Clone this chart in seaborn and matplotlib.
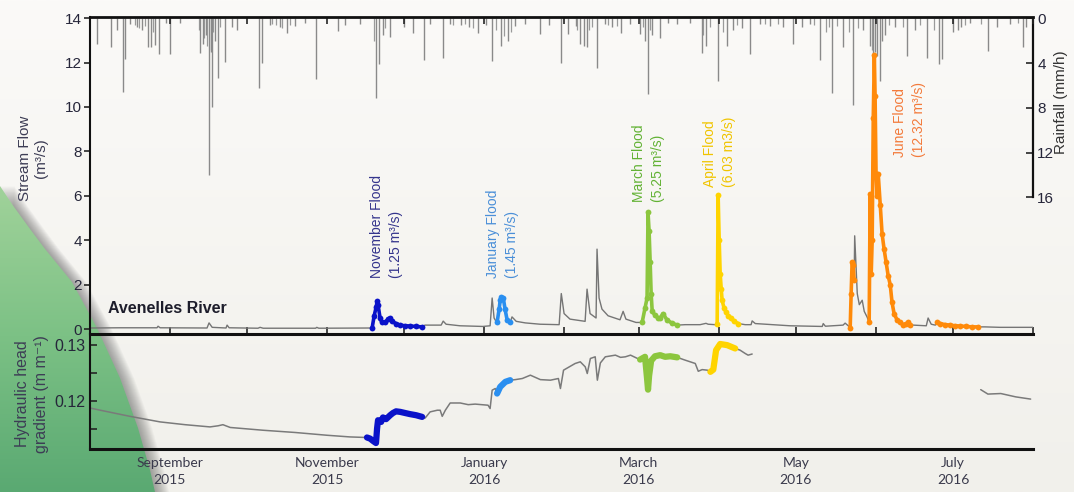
import numpy as np
import pandas as pd
import matplotlib
matplotlib.use("Agg")
import matplotlib.pyplot as plt
import matplotlib.dates as mdates
from matplotlib.patches import Polygon
from matplotlib.colors import LinearSegmentedColormap
import seaborn as sns

# ---------------------------------------------------------------- data
# Hourly rainfall peaks (mm/h)
rain_time = [
    "2015-08-03 17:00", "2015-08-09 05:00", "2015-08-11 12:00", "2015-08-13 19:00", "2015-08-14 14:00",
    "2015-08-16 10:00", "2015-08-19 05:00", "2015-08-21 05:00", "2015-08-23 12:00", "2015-08-24 17:00",
    "2015-08-26 05:00", "2015-08-27 19:00", "2015-08-30 12:00", "2015-09-01 00:00", "2015-09-05 00:00",
    "2015-09-12 17:00", "2015-09-13 20:00", "2015-09-15 00:00", "2015-09-16 05:00", "2015-09-16 22:00",
    "2015-09-17 07:00", "2015-09-18 12:00", "2015-09-19 17:00", "2015-09-22 10:00", "2015-09-25 02:00",
    "2015-09-27 00:00", "2015-10-05 14:00", "2015-10-06 19:00", "2015-10-09 22:00", "2015-10-13 19:00",
    "2015-10-16 12:00", "2015-10-19 14:00", "2015-10-23 10:00", "2015-10-27 19:00", "2015-11-05 07:00",
    "2015-11-08 00:00", "2015-11-13 19:00", "2015-11-20 00:00", "2015-11-21 05:00", "2015-11-22 17:00",
    "2015-11-25 12:00", "2015-11-30 22:00", "2015-12-04 10:00", "2015-12-08 14:00", "2015-12-11 00:00",
    "2015-12-16 00:00", "2015-12-18 17:00", "2015-12-22 22:00", "2015-12-26 00:00", "2015-12-29 12:00",
    "2016-01-01 17:00", "2016-01-04 02:00", "2016-01-07 14:00", "2016-01-10 07:00", "2016-01-13 00:00",
    "2016-01-16 22:00", "2016-01-22 17:00", "2016-01-26 05:00", "2016-01-30 22:00", "2016-02-02 14:00",
    "2016-02-05 17:00", "2016-02-07 05:00", "2016-02-08 19:00", "2016-02-09 22:00", "2016-02-13 19:00",
    "2016-02-16 22:00", "2016-02-19 14:00", "2016-02-23 02:00", "2016-02-26 14:00", "2016-03-01 12:00",
    "2016-03-03 10:00", "2016-03-04 14:00", "2016-03-06 05:00", "2016-03-09 07:00", "2016-03-12 10:00",
    "2016-03-15 22:00", "2016-03-21 00:00", "2016-03-25 14:00", "2016-03-27 02:00", "2016-03-31 19:00",
    "2016-04-04 07:00", "2016-04-06 14:00", "2016-04-10 02:00", "2016-04-13 05:00", "2016-04-17 02:00",
    "2016-04-21 00:00", "2016-04-26 00:00", "2016-04-29 22:00", "2016-05-03 10:00", "2016-05-06 12:00",
    "2016-05-10 10:00", "2016-05-15 00:00", "2016-05-19 07:00", "2016-05-23 05:00", "2016-05-27 02:00",
    "2016-05-29 19:00", "2016-05-31 00:00", "2016-05-31 17:00", "2016-06-01 12:00", "2016-06-02 17:00",
    "2016-06-03 10:00", "2016-06-04 14:00", "2016-06-08 12:00", "2016-06-13 02:00", "2016-06-16 05:00",
    "2016-06-20 22:00", "2016-06-25 12:00", "2016-06-26 17:00", "2016-07-01 00:00", "2016-07-02 22:00",
    "2016-07-04 02:00", "2016-07-07 14:00", "2016-07-14 14:00", "2016-07-18 00:00", "2016-07-23 02:00",
    "2016-07-28 02:00", "2016-07-29 07:00",
]
rain_mmh = [
    2.3, 2.6, 1.0, 6.6, 3.6,
    0.5, 0.8, 1.0, 2.6, 2.6,
    2.4, 3.2, 0.4, 3.2, 0.4,
    3.1, 2.3, 1.5, 14.0, 3.0,
    7.9, 2.0, 5.3, 3.9, 0.8,
    1.0, 6.2, 4.0, 0.6, 0.8,
    1.3, 0.7, 0.4, 5.4, 1.1,
    0.6, 0.5, 7.1, 4.1, 1.5,
    1.7, 0.8, 1.3, 3.7, 0.5,
    3.5, 0.5, 0.6, 0.8, 1.3,
    0.6, 3.8, 2.5, 2.0, 0.7,
    0.5, 1.4, 0.6, 4.0, 1.4,
    0.7, 2.3, 2.5, 2.6, 4.4,
    0.5, 0.8, 1.3, 0.5, 1.4,
    2.0, 6.8, 1.5, 1.8, 0.4,
    0.5, 0.4, 3.1, 2.5, 5.6,
    2.5, 1.0, 0.9, 3.2, 0.5,
    0.7, 0.8, 2.3, 0.8, 0.5,
    3.7, 6.7, 2.6, 7.7, 1.0,
    2.5, 3.2, 3.0, 3.4, 5.6,
    2.0, 1.5, 0.8, 3.4, 1.0,
    3.5, 4.1, 3.6, 1.2, 1.0,
    0.8, 0.4, 2.9, 0.8, 0.5,
    2.6, 0.8,
]

# Light showers (mm/h)
shower_time = [
    "2015-08-18 12:00", "2015-08-20 00:00", "2015-08-22 12:00", "2015-08-25 10:00", "2015-09-12 05:00",
    "2015-09-14 05:00", "2015-09-15 12:00", "2015-09-17 00:00", "2015-09-17 19:00", "2015-09-20 12:00",
    "2015-10-10 12:00", "2015-10-12 00:00", "2015-10-14 12:00", "2015-10-17 12:00", "2015-11-19 10:00",
    "2015-11-23 12:00", "2015-12-20 00:00", "2015-12-24 12:00", "2015-12-27 12:00", "2016-01-05 10:00",
    "2016-01-08 12:00", "2016-01-11 12:00", "2016-02-06 00:00", "2016-02-10 12:00", "2016-02-12 00:00",
    "2016-02-18 00:00", "2016-02-21 12:00", "2016-03-02 12:00", "2016-03-05 10:00", "2016-03-26 00:00",
    "2016-03-28 12:00", "2016-04-02 12:00", "2016-04-08 00:00", "2016-04-19 00:00", "2016-04-24 00:00",
    "2016-05-08 00:00", "2016-05-12 12:00", "2016-05-14 00:00", "2016-05-17 00:00", "2016-05-21 12:00",
    "2016-05-25 00:00", "2016-05-30 12:00", "2016-06-06 00:00", "2016-06-11 12:00", "2016-06-18 00:00",
    "2016-06-23 12:00", "2016-07-05 12:00", "2016-07-12 00:00", "2016-07-26 00:00",
]
shower_mmh = [
    0.6, 0.9, 0.7, 1.2, 1.0,
    1.8, 2.5, 2.8, 1.2, 0.8,
    0.5, 0.6, 0.9, 0.6, 2.0,
    0.9, 0.6, 0.5, 0.9, 1.0,
    1.6, 1.2, 1.0, 1.0, 0.8,
    0.6, 0.7, 0.8, 1.0, 1.5,
    0.8, 1.2, 0.6, 0.5, 0.5,
    0.6, 1.2, 0.8, 0.7, 1.2,
    0.9, 2.8, 0.6, 0.8, 0.6,
    1.0, 0.6, 0.5, 0.4,
]

# Stream flow (m3/s) between the flood events
base_time = [
    "2015-08-01 00:00", "2015-08-12 12:00", "2015-08-27 00:00", "2015-08-27 10:00", "2015-08-28 05:00",
    "2015-09-15 10:00", "2015-09-16 05:00", "2015-09-17 10:00", "2015-09-22 19:00", "2015-09-23 05:00",
    "2015-09-24 00:00", "2015-10-05 05:00", "2015-10-06 00:00", "2015-10-07 05:00", "2015-10-27 14:00",
    "2015-10-28 00:00", "2015-10-28 19:00", "2015-11-17 17:00",
    "2015-12-09 00:00", "2015-12-15 07:00", "2015-12-16 02:00", "2015-12-17 05:00", "2015-12-22 14:00",
    "2015-12-31 12:00", "2016-01-03 07:00", "2016-01-04 02:00", "2016-01-04 20:00", "2016-01-05 14:00",
    "2016-01-11 19:00", "2016-01-13 10:00", "2016-01-16 22:00", "2016-01-22 17:00", "2016-01-30 02:00",
    "2016-01-30 22:00", "2016-02-01 00:00", "2016-02-03 07:00", "2016-02-09 04:00", "2016-02-09 22:00",
    "2016-02-11 02:00", "2016-02-13 10:00", "2016-02-13 19:00", "2016-02-14 14:00", "2016-02-15 17:00",
    "2016-02-18 02:00", "2016-02-22 17:00", "2016-02-23 22:00", "2016-02-25 00:00", "2016-02-28 22:00",
    "2016-03-19 00:00", "2016-03-24 19:00", "2016-03-27 02:00", "2016-03-27 22:00", "2016-03-30 14:00",
    "2016-04-11 07:00", "2016-04-13 14:00", "2016-04-14 00:00", "2016-04-15 05:00", "2016-04-28 17:00",
    "2016-05-11 05:00", "2016-05-11 14:00", "2016-05-12 10:00", "2016-05-19 07:00", "2016-05-20 02:00",
    "2016-05-21 07:00", "2016-05-23 19:00", "2016-05-24 19:00", "2016-05-25 14:00", "2016-05-26 17:00",
    "2016-05-27 12:00", "2016-05-28 14:00", "2016-06-15 12:00", "2016-06-20 14:00", "2016-06-21 07:00",
    "2016-06-22 12:00", "2016-06-24 02:00", "2016-07-13 10:00", "2016-07-19 05:00", "2016-08-01 00:00",
]
base_flow = [
    0.05, 0.06, 0.06, 0.13, 0.06,
    0.05, 0.28, 0.08, 0.05, 0.18,
    0.06, 0.04, 0.08, 0.04, 0.04,
    0.08, 0.04, 0.05,
    0.18, 0.18, 0.36, 0.22, 0.15,
    0.12, 0.15, 1.40, 0.50, 0.35,
    0.55, 0.35, 0.28, 0.22, 0.20,
    1.60, 0.70, 0.45, 0.35, 1.80,
    0.70, 0.50, 3.60, 1.40, 0.90,
    0.60, 0.42, 0.80, 0.45, 0.30,
    0.20, 0.20, 0.26, 0.22, 0.20,
    0.20, 0.20, 0.37, 0.25, 0.15,
    0.12, 0.25, 0.13, 0.18, 0.27,
    0.15, 4.20, 1.60, 1.10, 1.30,
    0.80, 0.55, 0.18, 0.15, 0.50,
    0.22, 0.18, 0.10, 0.08, 0.08,
]

# Flood hydrographs (m3/s)
nov_time = ["2015-11-18 12:00", "2015-11-19 07:00", "2015-11-20 02:00", "2015-11-20 10:00", "2015-11-20 19:00",
            "2015-11-21 14:00", "2015-11-22 07:00", "2015-11-23 12:00", "2015-11-24 17:00", "2015-11-25 12:00",
            "2015-11-26 05:00", "2015-11-27 19:00", "2015-11-29 07:00", "2015-12-01 07:00", "2015-12-03 05:00",
            "2015-12-05 12:00", "2015-12-07 22:00"]
nov_flow = [0.05, 0.6, 1.0, 1.25, 1.1, 0.5, 0.3, 0.3, 0.45, 0.5, 0.35, 0.25, 0.18, 0.15, 0.14, 0.12, 0.10]

jan_time = ["2016-01-06 00:00", "2016-01-06 19:00", "2016-01-07 05:00", "2016-01-07 14:00", "2016-01-08 10:00",
            "2016-01-09 02:00", "2016-01-09 22:00", "2016-01-11 02:00"]
jan_flow = [0.3, 0.9, 1.3, 1.45, 1.4, 0.9, 0.4, 0.3]

mar_time = ["2016-03-02 07:00", "2016-03-03 10:00", "2016-03-04 05:00", "2016-03-04 14:00", "2016-03-05 00:00",
            "2016-03-05 10:00", "2016-03-05 19:00", "2016-03-06 05:00", "2016-03-07 07:00", "2016-03-08 12:00",
            "2016-03-09 07:00", "2016-03-10 10:00", "2016-03-12 00:00", "2016-03-13 22:00", "2016-03-15 22:00"]
mar_flow = [0.3, 0.95, 1.4, 5.25, 4.4, 3.0, 1.6, 0.8, 0.63, 0.5, 0.5, 0.7, 0.4, 0.27, 0.18]

apr_time = ["2016-03-31 10:00", "2016-03-31 19:00", "2016-04-01 05:00", "2016-04-01 14:00", "2016-04-02 00:00",
            "2016-04-02 08:00", "2016-04-03 02:00", "2016-04-03 22:00", "2016-04-04 17:00", "2016-04-05 20:00",
            "2016-04-07 00:00", "2016-04-08 14:00"]
apr_flow = [0.25, 6.03, 4.0, 2.5, 1.8, 1.3, 0.95, 0.75, 0.6, 0.5, 0.35, 0.25]

jun_pre_time = ["2016-05-22 01:00", "2016-05-22 10:00", "2016-05-22 19:00", "2016-05-23 05:00", "2016-05-23 14:00"]
jun_pre_flow = [0.05, 1.6, 3.0, 2.9, 2.2]

jun_time = ["2016-05-29 10:00", "2016-05-29 19:00", "2016-05-30 05:00", "2016-05-30 14:00", "2016-05-31 00:00",
            "2016-05-31 10:00", "2016-05-31 17:00", "2016-06-01 02:00", "2016-06-01 12:00", "2016-06-01 22:00",
            "2016-06-02 17:00", "2016-06-03 10:00", "2016-06-04 05:00", "2016-06-05 00:00", "2016-06-05 19:00",
            "2016-06-06 14:00", "2016-06-07 07:00", "2016-06-08 02:00", "2016-06-09 07:00", "2016-06-10 10:00",
            "2016-06-11 14:00", "2016-06-12 19:00", "2016-06-13 14:00", "2016-06-14 10:00"]
jun_flow = [0.3, 6.1, 2.5, 4.0, 9.5, 12.32, 10.5, 7.0, 6.0, 7.0, 5.6, 4.3, 3.6, 3.0, 2.4,
            2.0, 1.2, 0.7, 0.4, 0.3, 0.2, 0.25, 0.3, 0.2]

jun_tail_time = ["2016-06-24 19:00", "2016-06-26 00:00", "2016-06-27 22:00", "2016-06-29 22:00", "2016-07-01 19:00",
                 "2016-07-03 17:00", "2016-07-06 00:00", "2016-07-08 10:00", "2016-07-10 17:00"]
jun_tail_flow = [0.3, 0.25, 0.2, 0.18, 0.15, 0.14, 0.12, 0.10, 0.10]

# Hydraulic head gradient (m/m) outside the flood windows
head_base_time = [
    "2015-08-01 00:00", "2015-08-05 00:00", "2015-08-16 12:00", "2015-08-28 05:00", "2015-09-06 22:00",
    "2015-09-16 14:00", "2015-09-19 17:00", "2015-09-21 14:00", "2015-09-24 10:00", "2015-10-07 05:00",
    "2015-10-19 14:00", "2015-11-01 00:00", "2015-11-09 22:00", "2015-11-16 02:00",
    "2015-12-09 02:00", "2015-12-11 00:00", "2015-12-13 19:00", "2015-12-14 22:00", "2015-12-15 17:00",
    "2015-12-16 22:00", "2015-12-18 19:00", "2015-12-22 17:00", "2015-12-25 19:00", "2015-12-28 12:00",
    "2016-01-02 12:00", "2016-01-03 07:00", "2016-01-04 02:00", "2016-01-05 07:00",
    "2016-01-13 02:00", "2016-01-15 19:00", "2016-01-18 22:00", "2016-01-22 19:00", "2016-01-26 17:00",
    "2016-01-29 19:00", "2016-01-30 14:00", "2016-01-31 19:00", "2016-02-03 10:00", "2016-02-05 07:00",
    "2016-02-07 07:00", "2016-02-09 05:00", "2016-02-10 00:00", "2016-02-11 05:00", "2016-02-13 02:00",
    "2016-02-13 22:00", "2016-02-15 02:00", "2016-02-17 00:00", "2016-02-20 22:00", "2016-02-22 22:00",
    "2016-02-24 19:00", "2016-02-26 19:00", "2016-02-29 12:00",
    "2016-03-19 00:00", "2016-03-22 22:00", "2016-03-24 02:00", "2016-03-25 14:00", "2016-03-27 14:00",
    "2016-04-09 07:00", "2016-04-11 07:00", "2016-04-12 10:00", "2016-04-14 00:00",
]
head_base = [
    0.1187, 0.1183, 0.1172, 0.1162, 0.1157,
    0.1153, 0.1155, 0.1157, 0.1152, 0.1147,
    0.1143, 0.1138, 0.1135, 0.1134,
    0.1169, 0.1180, 0.1183, 0.1183, 0.1172,
    0.1183, 0.1196, 0.1196, 0.1193, 0.1194,
    0.1192, 0.1186, 0.1219, 0.1222,
    0.1238, 0.1240, 0.1246, 0.1238, 0.1237,
    0.1240, 0.1222, 0.1255, 0.1262, 0.1267,
    0.1270, 0.1261, 0.1249, 0.1276, 0.1279,
    0.1237, 0.1268, 0.1279, 0.1282, 0.1278,
    0.1279, 0.1282, 0.1276,
    0.1273, 0.1267, 0.1253, 0.1256, 0.1255,
    0.1291, 0.1285, 0.1282, 0.1284,
]
head_jul_time = ["2016-07-11 17:00", "2016-07-14 12:00", "2016-07-19 12:00", "2016-07-25 07:00", "2016-07-31 02:00"]
head_jul = [0.1220, 0.1212, 0.1213, 0.1207, 0.1203]

# Hydraulic head gradient during the floods
head_nov_time = ["2015-11-16 12:00", "2015-11-17 17:00", "2015-11-18 19:00", "2015-11-20 00:00", "2015-11-20 10:00",
                 "2015-11-20 19:00", "2015-11-22 00:00", "2015-11-22 17:00", "2015-11-23 22:00", "2015-11-25 12:00",
                 "2015-11-26 14:00", "2015-11-27 19:00", "2015-11-29 10:00", "2015-12-01 07:00", "2015-12-03 05:00",
                 "2015-12-05 14:00", "2015-12-07 22:00"]
head_nov = [0.1134, 0.1132, 0.1128, 0.1124, 0.1150, 0.1165, 0.1162, 0.1170, 0.1167, 0.1174,
            0.1178, 0.1181, 0.1180, 0.1178, 0.1176, 0.1174, 0.1171]
head_jan_time = ["2016-01-06 00:00", "2016-01-07 05:00", "2016-01-09 05:00", "2016-01-11 02:00"]
head_jan = [0.1213, 0.1225, 0.1234, 0.1237]
head_mar_time = ["2016-03-01 12:00", "2016-03-03 10:00", "2016-03-04 05:00", "2016-03-04 14:00", "2016-03-05 00:00",
                 "2016-03-05 19:00", "2016-03-07 07:00", "2016-03-09 07:00", "2016-03-11 05:00", "2016-03-13 05:00",
                 "2016-03-15 22:00"]
head_mar = [0.1274, 0.1279, 0.1240, 0.1220, 0.1245, 0.1272, 0.1280, 0.1282, 0.1279, 0.1280, 0.1278]
head_apr_time = ["2016-03-28 19:00", "2016-03-29 22:00", "2016-03-31 00:00", "2016-04-01 14:00", "2016-04-04 07:00",
                 "2016-04-07 10:00"]
head_apr = [0.1252, 0.1256, 0.1291, 0.1302, 0.1300, 0.1294]

# Flood annotations
flood_labels = ["November Flood\n(1.25 m³/s)", "January Flood\n(1.45 m³/s)", "March Flood\n(5.25 m³/s)",
                "April Flood\n(6.03 m3/s)", "June Flood\n(12.32 m³/s)"]
flood_label_time = ["2015-11-23 22:00", "2016-01-07 22:00", "2016-03-04 14:00", "2016-04-01 05:00", "2016-06-13 22:00"]
flood_label_flow = [2.29, 2.29, 5.7, 6.38, 7.73]

# ---------------------------------------------------------------- style
C_NOV, C_JAN, C_MAR, C_APR, C_JUN = "#0a12c9", "#2a8ff0", "#8cc63e", "#ffd400", "#ff8a0a"
LABEL_COLORS = ["#34348c", "#4a8fd8", "#62b234", "#f0c400", "#f37a3a"]
INK = "#26263a"

sns.set_theme(style="white")
plt.rcParams["font.family"] = ["Liberation Sans", "DejaVu Sans"]
plt.rcParams["axes.edgecolor"] = "#111111"


def frame(times, values):
    return pd.DataFrame({"time": pd.to_datetime(times), "value": values})


fig = plt.figure(figsize=(10.74, 4.92), dpi=100)

# ---- page background with the green corner band
bg = fig.add_axes([0, 0, 1, 1], zorder=-5)
bg.set_xlim(0, 1074)
bg.set_ylim(492, 0)
bg.axis("off")
paper = LinearSegmentedColormap.from_list("paper", ["#fbfaf8", "#f1f0eb"])
bg.imshow(np.linspace(0, 1, 256)[:, None], cmap=paper, extent=(0, 1074, 492, 0), aspect="auto", zorder=0)
edge = np.array([[0, 186], [14, 207], [30, 229], [45, 249], [72, 282], [97, 328], [120, 378],
                 [138, 428], [150, 470], [155, 492]])
for k in range(14, 0, -1):
    shifted = np.vstack([edge + [k, 0], [[0, 492]]])
    bg.add_patch(Polygon(shifted, closed=True, fc="#505050", ec="none", alpha=0.045, zorder=1))
green_shape = Polygon(np.vstack([edge, [[0, 492]]]), closed=True, fc="none", ec="none",
                      transform=bg.transData)
greens = LinearSegmentedColormap.from_list("greens", ["#a2d39b", "#7cc185", "#5aa972"])
img = bg.imshow(np.linspace(0, 1, 256)[:, None], cmap=greens, extent=(0, 170, 492, 180),
                aspect="auto", zorder=2)
img.set_clip_path(green_shape)

# ---- axes
L, R = 90 / 1074, 1033 / 1074
ax = fig.add_axes([L, 1 - 334 / 492, R - L, (334 - 17) / 492])
axh = fig.add_axes([L, 1 - 449 / 492, R - L, (449 - 334) / 492])
ax_r = ax.twinx()
ax.set_zorder(ax_r.get_zorder() + 1)
for a in (ax, axh, ax_r):
    a.patch.set_visible(False)

start, end = pd.Timestamp("2015-08-01"), pd.Timestamp("2016-08-01")

# rainfall, hanging from the top of the panel
ax_r.vlines(pd.to_datetime(shower_time), 0, shower_mmh, color="#9a9a9a", lw=0.9)
ax_r.vlines(pd.to_datetime(rain_time), 0, rain_mmh, color="#8a8a8a", lw=1.0)
ax_r.set_ylim(28.2, -0.12)
ax_r.set_yticks([0, 4, 8, 12, 16])
ax_r.tick_params(axis="y", direction="in", length=5, width=1.2, labelsize=11, labelcolor=INK, pad=3)
for s in ("left", "top", "bottom"):
    ax_r.spines[s].set_visible(False)
ax_r.spines["right"].set_bounds(0, 16)
ax_r.spines["right"].set_linewidth(1.6)
ax_r.set_ylabel("Rainfall (mm/h)", fontsize=11, color="#333333", rotation=90)
ax_r.yaxis.set_label_coords(1.0225, 0.73)

# stream flow
segments = [(nov_time, nov_flow, C_NOV), (jan_time, jan_flow, C_JAN), (mar_time, mar_flow, C_MAR),
            (apr_time, apr_flow, C_APR), (jun_pre_time, jun_pre_flow, C_JUN), (jun_time, jun_flow, C_JUN),
            (jun_tail_time, jun_tail_flow, C_JUN)]
flow_all = pd.concat([frame(base_time, base_flow)] + [frame(t, v) for t, v, _ in segments]).sort_values("time")
sns.lineplot(data=flow_all, x="time", y="value", ax=ax, color="#757575", lw=1.0,
             estimator=None, errorbar=None)
for t, v, c in segments:
    sns.lineplot(data=frame(t, v), x="time", y="value", ax=ax, color=c, lw=2.6, marker="o",
                 markersize=4.2, markeredgewidth=0, estimator=None, errorbar=None, zorder=3)

for txt, t, y, c in zip(flood_labels, flood_label_time, flood_label_flow, LABEL_COLORS):
    ax.text(mdates.date2num(pd.Timestamp(t)), y, txt, rotation=90, ha="center", va="bottom",
            multialignment="left", color=c, fontsize=10, linespacing=1.45)

ax.text(0.019, 0.082, "Avenelles River", transform=ax.transAxes, fontsize=11.5, fontweight="bold",
        color="#1d1d2b", ha="left", va="center")

ax.set_xlim(start, end)
ax.set_ylim(-0.22, 14.05)
ax.set_yticks(range(0, 15, 2))
ax.xaxis.set_major_locator(mdates.MonthLocator())
ax.tick_params(axis="x", which="both", direction="in", top=True, bottom=True, length=5, width=1.2,
               labelbottom=False)
ax.tick_params(axis="y", direction="out", length=4, width=1.2, labelsize=11, labelcolor=INK, pad=2)
ax.spines["right"].set_visible(False)
ax.spines["top"].set_linewidth(2.0)
ax.spines["bottom"].set_linewidth(2.2)
ax.spines["left"].set_linewidth(1.5)
ax.set_xlabel("")
ax.set_ylabel("Stream Flow\n(m³/s)", fontsize=11, color="#3d3d55", linespacing=1.2)
ax.yaxis.set_label_coords(-0.0445, 0.555)

# hydraulic head gradient
head_segments = [(head_nov_time, head_nov, C_NOV), (head_jan_time, head_jan, C_JAN),
                 (head_mar_time, head_mar, C_MAR), (head_apr_time, head_apr, C_APR)]
head_all = pd.concat([frame(head_base_time, head_base)] +
                     [frame(t, v) for t, v, _ in head_segments]).sort_values("time")
sns.lineplot(data=head_all, x="time", y="value", ax=axh, color="#7a7a7a", lw=1.1,
             estimator=None, errorbar=None)
sns.lineplot(data=frame(head_jul_time, head_jul), x="time", y="value", ax=axh, color="#7a7a7a", lw=1.1,
             estimator=None, errorbar=None)
for t, v, c in head_segments:
    sns.lineplot(data=frame(t, v), x="time", y="value", ax=axh, color=c, lw=4.5,
                 estimator=None, errorbar=None, zorder=3)

axh.set_xlim(start, end)
axh.set_ylim(0.11133, 0.1320)
axh.set_yticks([0.12, 0.13])
axh.set_yticklabels(["0.12", "0.13"])
axh.set_yticks([0.115, 0.125], minor=True)
axh.xaxis.set_major_locator(mdates.MonthLocator(bymonth=[9, 11, 1, 3, 5, 7]))
axh.xaxis.set_major_formatter(mdates.DateFormatter("%B\n%Y"))
axh.tick_params(axis="x", direction="in", length=5, width=1.2, labelsize=10, labelcolor="#3a3a4c", pad=6)
axh.tick_params(axis="y", which="both", direction="in", length=5, width=1.2, labelsize=11.5,
                labelcolor=INK, pad=3, left=True)
for lab in axh.get_xticklabels():
    lab.set_fontfamily(["Lato", "DejaVu Sans"])
    lab.set_linespacing(1.5)
axh.spines["top"].set_visible(False)
axh.spines["right"].set_visible(False)
axh.spines["bottom"].set_linewidth(2.2)
axh.spines["left"].set_linewidth(1.5)
axh.set_xlabel("")
axh.set_ylabel("Hydraulic head\ngradient (m m⁻¹)", fontsize=11.5, color="#3d3d55", linespacing=1.3)
axh.yaxis.set_label_coords(-0.0435, 0.478)

fig.savefig("out.png", dpi=100)
